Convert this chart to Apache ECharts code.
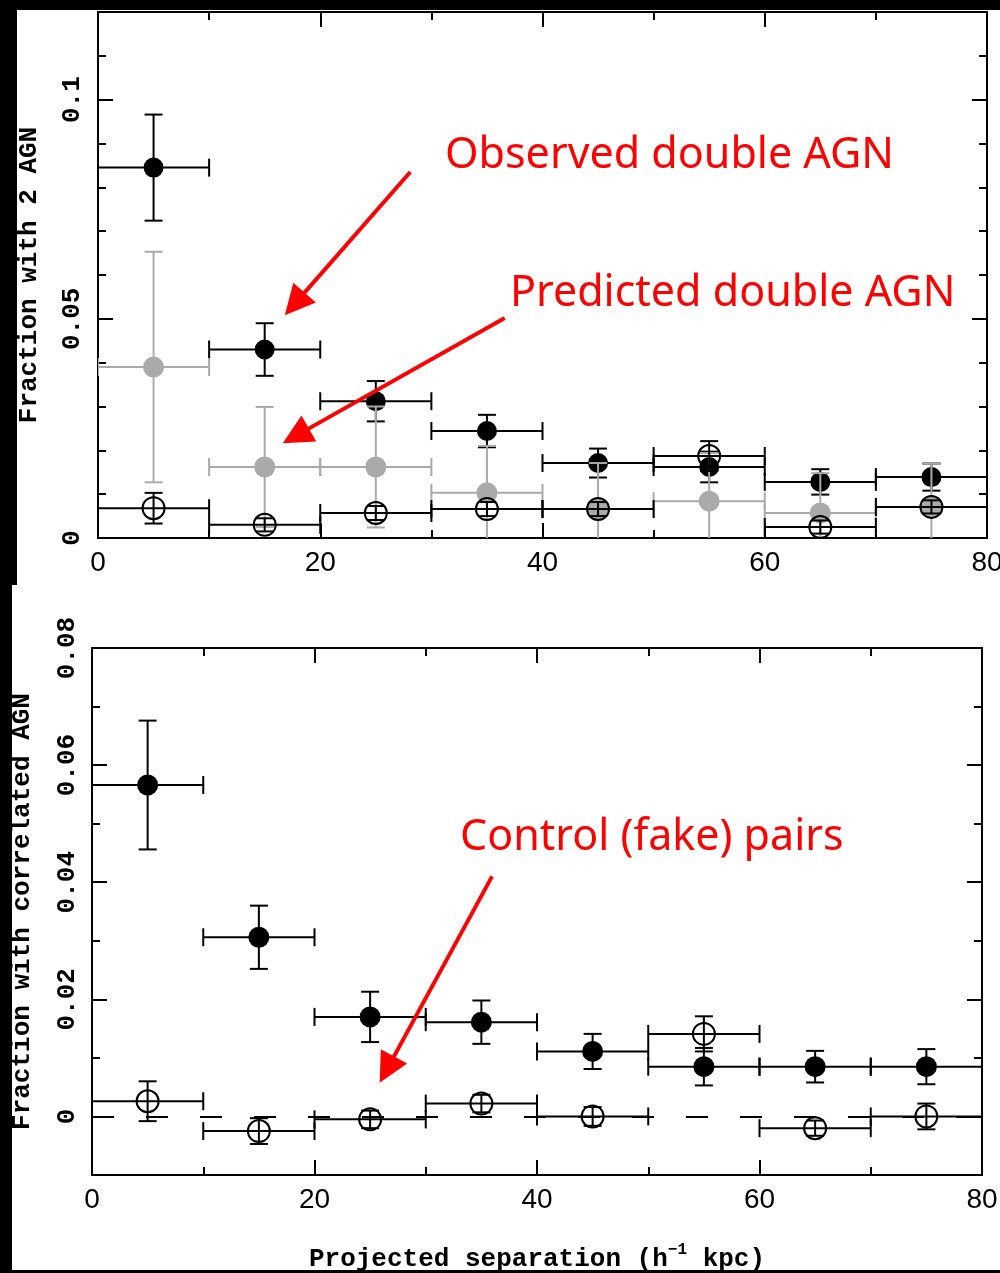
<!DOCTYPE html>
<html>
<head>
<meta charset="utf-8">
<script src="https://cdn.jsdelivr.net/npm/echarts@6/dist/echarts.min.js"></script>
<style>
  html, body { margin: 0; padding: 0; background: #000; }
  body { width: 1000px; height: 1273px; position: relative; overflow: hidden; }
  #top { position: absolute; left: 17px; top: 10px; width: 983px; height: 575px; background: #fff; }
  #bottom { position: absolute; left: 12px; top: 585px; width: 988px; height: 685px; background: #fff; }
</style>
</head>
<body>
<div id="top"></div>
<div id="bottom"></div>
<script>
// separation bins (h^-1 kpc), half-width of each bin
const binCenters = [5, 15, 25, 35, 45, 55, 65, 75]
const binHalf = [5, 5, 5, 5, 5, 5, 5, 5]

// top panel: fraction with 2 AGN
const observed = [0.0845, 0.0430, 0.0312, 0.0244, 0.0171, 0.0162, 0.0128, 0.0139]
const observedErr = [0.0121, 0.0060, 0.0046, 0.0037, 0.0033, 0.0035, 0.0029, 0.0031]
const predicted = [0.0390, 0.0162, 0.0162, 0.0103, 0.0066, 0.0084, 0.0057, 0.0071]
const predictedErr = [0.0263, 0.0137, 0.0138, 0.0107, 0.0105, 0.0110, 0.0091, 0.0099]
const controlTop = [0.0068, 0.0030, 0.0057, 0.0066, 0.0066, 0.0187, 0.0025, 0.0071]
const controlTopErr = [0.0035, 0.0015, 0.0016, 0.0016, 0.0016, 0.0034, 0.0015, 0.0015]

// bottom panel: fraction with correlated AGN
const correlated = [0.0566, 0.0306, 0.0170, 0.0161, 0.0111, 0.0085, 0.0085, 0.0085]
const correlatedErr = [0.0110, 0.0054, 0.0043, 0.0037, 0.0030, 0.0032, 0.0027, 0.0030]
const controlBot = [0.0026, -0.0025, -0.0005, 0.0022, 0.0000, 0.0141, -0.0020, 0.0000]
const controlBotErr = [0.0034, 0.0022, 0.0015, 0.0015, 0.0016, 0.0030, 0.0013, 0.0022]

// tick values
const xMajor = [0, 20, 40, 60, 80]
const xMinor = [0, 10, 20, 30, 40, 50, 60, 70, 80]
const yTopMajor = [0, 0.05, 0.1]
const yTopMinor = [0, 0.01, 0.02, 0.03, 0.04, 0.05, 0.06, 0.07, 0.08, 0.09, 0.1, 0.11]
const yBotMajor = [0, 0.02, 0.04, 0.06, 0.08]
const yBotMinor = [-0.01, 0, 0.01, 0.02, 0.03, 0.04, 0.05, 0.06, 0.07]

const MONO = 'Liberation Mono'
const SANS = 'Liberation Sans'

function points(vals, errs) {
  return binCenters.map(function(x, i) {
    return [x, vals[i], binHalf[i], errs[i]]
  })
}

// error bar cross with caps plus a circle marker
function errorBars(color, filled, r) {
  return function(params, api) {
    const x = api.value(0)
    const y = api.value(1)
    const xe = api.value(2)
    const ye = api.value(3)
    const c = api.coord([x, y])
    const l = api.coord([x - xe, y])
    const rr = api.coord([x + xe, y])
    const t = api.coord([x, y + ye])
    const b = api.coord([x, y - ye])
    const cap = 9
    const st = { stroke: color, lineWidth: 2 }
    const seg = function(x1, y1, x2, y2) {
      return { type: 'line', shape: { x1: x1, y1: y1, x2: x2, y2: y2 }, style: st }
    }
    return {
      type: 'group',
      children: [
        seg(l[0], l[1], rr[0], rr[1]),
        seg(l[0], l[1] - cap, l[0], l[1] + cap),
        seg(rr[0], rr[1] - cap, rr[0], rr[1] + cap),
        seg(t[0], t[1], b[0], b[1]),
        seg(t[0] - cap, t[1], t[0] + cap, t[1]),
        seg(b[0] - cap, b[1], b[0] + cap, b[1]),
        {
          type: 'circle',
          shape: { cx: c[0], cy: c[1], r: r },
          style: filled ? { fill: color } : { fill: 'none', stroke: color, lineWidth: 2 }
        }
      ]
    }
  }
}

function errSeries(data, color, filled, r) {
  return {
    type: 'custom',
    xAxisIndex: 0,
    yAxisIndex: 0,
    clip: true,
    silent: true,
    renderItem: errorBars(color, filled, r),
    encode: { x: 0, y: 1 },
    data: data
  }
}

// one x and one y axis on a grid: main (line + long ticks) or minor (short ticks)
function boxAxis(dim, grid, pos, range, ticks, len, label, name) {
  const ax = {
    type: 'value',
    gridIndex: grid,
    position: pos,
    min: range[0],
    max: range[1],
    axisLine: { show: len > 10, onZero: false, lineStyle: { color: '#000', width: 2 } },
    axisTick: { show: true, inside: true, length: len, customValues: ticks, lineStyle: { color: '#000', width: 2 } },
    axisLabel: { show: false },
    splitLine: { show: false }
  }
  if (label) ax.axisLabel = label
  if (name) Object.assign(ax, name)
  return ax
}

function buildChart(el, gridPos, xRange, yRange, yMajor, yMinor, yLabel, xName, yName, series, texts) {
  const grids = []
  for (let i = 0; i < 4; i++) {
    grids.push(Object.assign({ containLabel: false, outerBoundsMode: 'none' }, gridPos))
  }
  const xLabel = {
    show: true, customValues: xMajor, margin: 11,
    fontFamily: SANS, fontSize: 28, color: '#000'
  }
  const chart = echarts.init(document.getElementById(el), null, { renderer: 'canvas' })
  chart.setOption({
    animation: false,
    backgroundColor: '#fff',
    grid: grids,
    xAxis: [
      boxAxis('x', 0, 'bottom', xRange, xMajor, 15, xLabel, xName),
      boxAxis('x', 1, 'top', xRange, xMajor, 15),
      boxAxis('x', 2, 'bottom', xRange, xMinor, 8),
      boxAxis('x', 3, 'top', xRange, xMinor, 8)
    ],
    yAxis: [
      boxAxis('y', 0, 'left', yRange, yMajor, 15, yLabel, yName),
      boxAxis('y', 1, 'right', yRange, yMajor, 15),
      boxAxis('y', 2, 'left', yRange, yMinor, 8),
      boxAxis('y', 3, 'right', yRange, yMinor, 8)
    ],
    graphic: texts.map(function(t) {
      return {
        type: 'text', x: t[1], y: t[2], silent: true,
        style: { text: t[0], fontFamily: 'Noto Sans', fontSize: 43, fill: '#ff0000', verticalAlign: 'middle' }
      }
    }),
    series: series
  })
  return chart
}

function arrowSeries(arrows) {
  return {
    type: 'line',
    xAxisIndex: 0,
    yAxisIndex: 0,
    data: [],
    silent: true,
    markLine: {
      silent: true,
      animation: false,
      symbol: ['none', 'triangle'],
      symbolSize: 30,
      label: { show: false },
      lineStyle: { color: '#ff0000', width: 4, type: 'solid' },
      data: arrows.map(function(a) {
        return [{ coord: a[0] }, { coord: a[1] }]
      })
    }
  }
}

const yNameStyle = { fontFamily: MONO, fontSize: 26, fontWeight: 'bold', color: '#000' }
const yLabelStyle = { fontFamily: MONO, fontSize: 26, fontWeight: 'bold', color: '#000' }

// top panel
buildChart('top',
  { left: 81, top: 2, right: 13, bottom: 47 },
  [0, 80], [0, 0.12], yTopMajor, yTopMinor,
  Object.assign({ show: true, customValues: yTopMajor, rotate: 90, margin: 13 }, yLabelStyle),
  null,
  { name: 'Fraction with 2 AGN', nameLocation: 'middle', nameGap: 56, nameTextStyle: yNameStyle },
  [
    errSeries(points(observed, observedErr), '#000', true, 10),
    errSeries(points(predicted, predictedErr), '#aaaaaa', true, 10.5),
    errSeries(points(controlTop, controlTopErr), '#000', false, 11),
    arrowSeries([
      [[28.1, 0.0835], [17.7, 0.0534]],
      [[36.6, 0.0502], [17.8, 0.0233]]
    ])
  ],
  [
    ['Observed double AGN', 428, 146],
    ['Predicted double AGN', 493, 284]
  ]
)

// bottom panel
buildChart('bottom',
  { left: 80, top: 63, right: 18, bottom: 95 },
  [0, 80], [-0.01, 0.08], yBotMajor, yBotMinor,
  Object.assign({ show: true, customValues: yBotMajor, rotate: 90, margin: 12 }, yLabelStyle),
  {
    name: 'Projected separation (h{s|\u22121} kpc)',
    nameLocation: 'middle',
    nameGap: 67,
    nameTextStyle: Object.assign({
      rich: { s: { fontFamily: MONO, fontSize: 16, fontWeight: 'bold', color: '#000', padding: [0, 0, 18, 0] } }
    }, yNameStyle)
  },
  { name: 'Fraction with correlated AGN', nameLocation: 'middle', nameGap: 57, nameTextStyle: yNameStyle },
  [
    {
      type: 'line',
      xAxisIndex: 0,
      yAxisIndex: 0,
      data: [],
      silent: true,
      markLine: {
        silent: true,
        symbol: ['none', 'none'],
        label: { show: false },
        lineStyle: { color: '#000', width: 2, type: [22, 32] },
        data: [{ yAxis: 0 }]
      }
    },
    errSeries(points(correlated, correlatedErr), '#000', true, 10.5),
    errSeries(points(controlBot, controlBotErr), '#000', false, 11),
    arrowSeries([
      [[35.96, 0.0410], [26.5, 0.0080]]
    ])
  ],
  [
    ['Control (fake) pairs', 448, 253]
  ]
)
</script>
</body>
</html>
